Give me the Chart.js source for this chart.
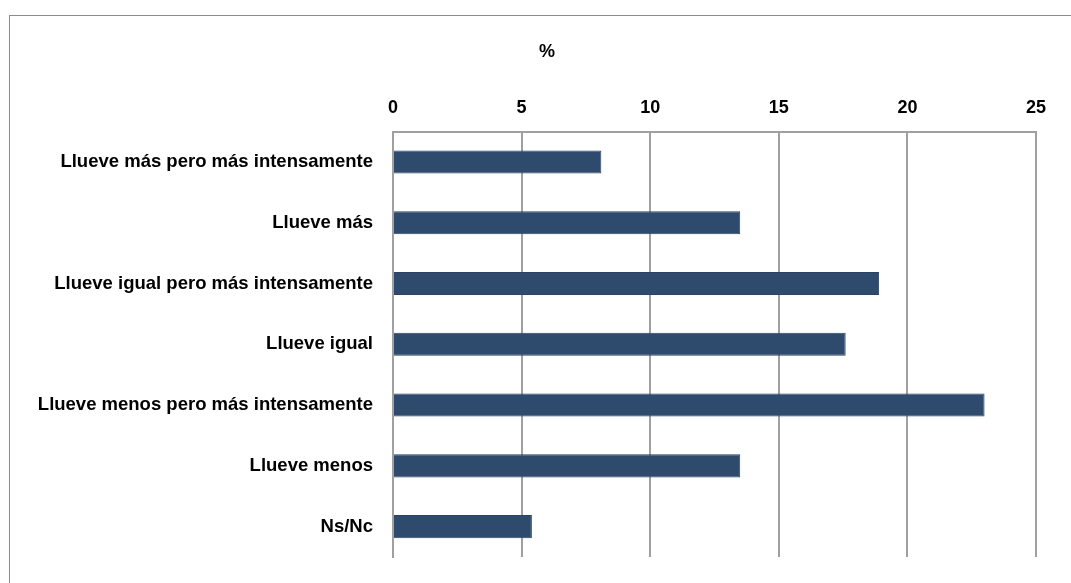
<!DOCTYPE html>
<html>
<head>
<meta charset="utf-8">
<script src="https://cdn.jsdelivr.net/npm/chart.js@4"></script>
<style>
html,body{margin:0;padding:0;background:#fff;overflow:hidden;width:1071px;height:583px;}
#box{position:absolute;left:9px;top:15px;width:1074px;height:580px;border:1px solid #8c8c8c;}
</style>
</head>
<body>
<div id="box"><canvas id="chart"></canvas></div>
<script>
const categories=["Llueve más pero más intensamente","Llueve más","Llueve igual pero más intensamente","Llueve igual","Llueve menos pero más intensamente","Llueve menos","Ns/Nc"];
const values=[8.1,13.5,18.9,17.6,23.0,13.5,5.4];
const xTicks=[0,5,10,15,20,25];

const family="'Liberation Sans', Arial, sans-serif";
const tickFont={family:family,size:18,weight:"bold"};
const labelFont={family:family,size:18.5,weight:"bold"};

// center the title on the whole canvas, not on the padded area
const titleCenter={
id:"titleCenter",
afterLayout(c){
if(c.titleBlock){c.titleBlock.left=0;c.titleBlock.right=c.width;}
}
};

const ctx=document.getElementById("chart").getContext("2d");
const chart=new Chart(ctx,{
type:"bar",
data:{
labels:categories,
datasets:[{
label:"%",
data:values,
backgroundColor:"#2e4a6d",
borderColor:"#2a4365",
borderWidth:1,
categoryPercentage:1,
barPercentage:0.38
}]
},
options:{
indexAxis:"y",
responsive:true,
maintainAspectRatio:false,
animation:false,
layout:{padding:{left:0,right:48,top:0,bottom:39}},
plugins:{
legend:{display:false},
tooltip:{enabled:false},
title:{display:true,text:"%",color:"#000",font:tickFont,padding:{top:25,bottom:23}}
},
scales:{
x:{
position:"top",
min:xTicks[0],
max:xTicks[xTicks.length-1],
afterBuildTicks:(s)=>{s.ticks=xTicks.map(v=>({value:v}));},
ticks:{color:"#000",font:tickFont,padding:13},
grid:{color:"#a0a0a0",lineWidth:2,drawTicks:false},
border:{color:"#a0a0a0",width:2},
afterFit:(s)=>{s.height=46;}
},
y:{
ticks:{color:"#000",font:labelFont,padding:20},
grid:{display:false,drawTicks:false},
border:{color:"#a0a0a0",width:2},
afterFit:(s)=>{s.width=383;}
}
}
},
plugins:[titleCenter]
});
</script>
</body>
</html>
